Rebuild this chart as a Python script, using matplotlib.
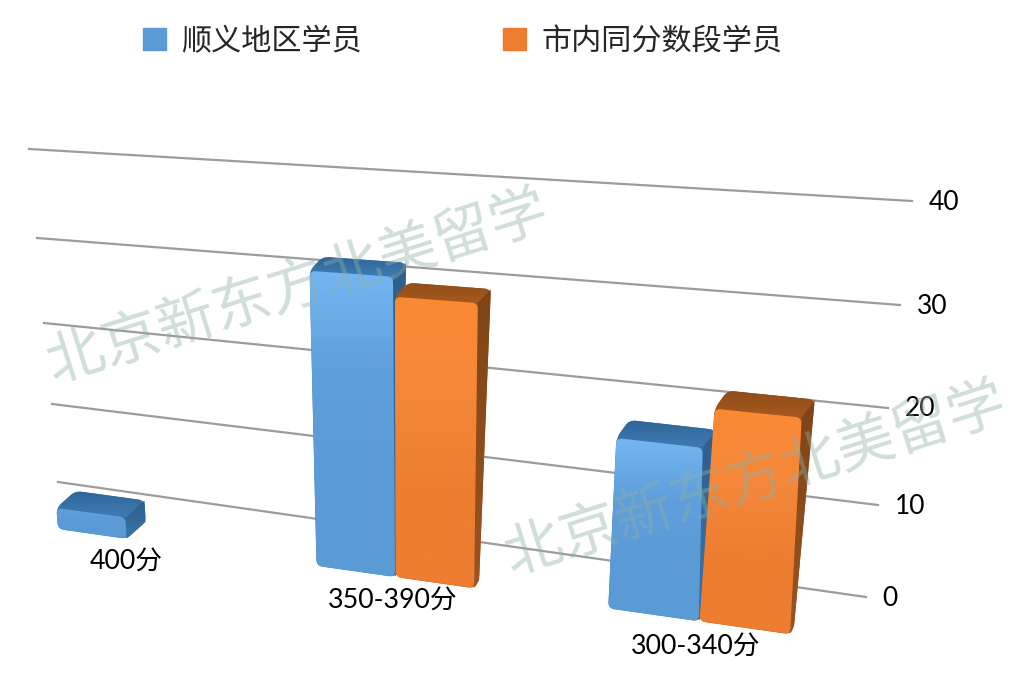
import numpy as np
import matplotlib
matplotlib.use('Agg')
from matplotlib import pyplot as plt
from matplotlib.path import Path
from matplotlib.patches import PathPatch, Rectangle
from matplotlib.colors import to_rgb

plt.rcParams['font.family'] = ['Lato', 'Noto Sans CJK SC', 'DejaVu Sans']

categories = ['400分', '350-390分', '300-340分']
blue_values = [2.7, 33.8, 19]
orange_values = [0, 31.7, 23]
tick_values = [0, 10, 20, 30, 40]
series_names = ['顺义地区学员', '市内同分数段学员']
watermark = '北京新东方北美留学'

# the chart is tilted, gridline ends in picture pixels
grid_left_x = [58, 52, 44, 37, 29]
grid_left_y = [482, 404, 323, 238, 149]
grid_right_x = [866, 878, 888, 900, 912]
grid_right_y = [597, 505, 408, 305, 201]

group_left = [0.0, 0.32, 0.681]
group_width = [0.085, 0.097, 0.112]
front_drop = [47, 47, 48]
top_left_dx = [0, -3, -2]
top_right_dx = [0, -4, -10]
back_top = [(19, -17), (13, -14), (13, -18)]
back_bottom = [(19, -17), (5, -8), (4, -8)]


def proj(u, v):
    xl = np.interp(v, tick_values, grid_left_x)
    yl = np.interp(v, tick_values, grid_left_y)
    xr = np.interp(v, tick_values, grid_right_x)
    yr = np.interp(v, tick_values, grid_right_y)
    return np.array([xl + (xr - xl) * u, yl + (yr - yl) * u])


def round_path(pts, r):
    verts, codes = [], []
    n = len(pts)
    for i in range(n):
        p = np.array(pts[i], float)
        a = np.array(pts[i - 1], float)
        b = np.array(pts[(i + 1) % n], float)
        ra = min(r, np.linalg.norm(a - p) / 2)
        rb = min(r, np.linalg.norm(b - p) / 2)
        p1 = p + (a - p) / np.linalg.norm(a - p) * ra
        p2 = p + (b - p) / np.linalg.norm(b - p) * rb
        verts += [p1, p, p2]
        codes += [Path.MOVETO if i == 0 else Path.LINETO, Path.CURVE3, Path.CURVE3]
    verts.append(verts[0])
    codes.append(Path.CLOSEPOLY)
    return Path(verts, codes)


def gradient_face(ax, pts, stops, r, z):
    # stops are colours spread evenly from top to bottom of the face
    pts = np.array(pts)
    path = round_path(pts, r)
    pos = np.linspace(0, 1, 64)
    rgb = np.array([to_rgb(c) for c in stops])
    ramp = np.stack([np.interp(pos, np.linspace(0, 1, len(stops)), rgb[:, k])
                     for k in range(3)], axis=-1)
    img = ramp[:, np.newaxis, :]
    x0, y0 = pts.min(axis=0)
    x1, y1 = pts.max(axis=0)
    im = ax.imshow(img, extent=(x0, x1, y1, y0), aspect='auto', zorder=z,
                   interpolation='bilinear')
    patch = PathPatch(path, transform=ax.transData, facecolor='none', edgecolor='none')
    ax.add_patch(patch)
    im.set_clip_path(patch)


def draw_bar(ax, i, u0, value, colours, z):
    front, top, side = colours
    width = group_width[i]
    down = np.array([0, front_drop[i]])
    bl = proj(u0, 0) + down
    br = proj(u0 + width, 0) + down
    tl = proj(u0, value) + down + np.array([top_left_dx[i], 0])
    tr = proj(u0 + width, value) + down + np.array([top_right_dx[i], 0])
    st = np.array(back_top[i])
    sb = np.array(back_bottom[i])
    # whole outline first so no white shows where the faces meet
    outline = round_path([tl, tl + st, tr + st, br + sb, br, bl], 6)
    ax.add_patch(PathPatch(outline, facecolor=side[-1], edgecolor='none', zorder=z))
    gradient_face(ax, [tr, tr + st, br + sb, br], side, 1, z + 0.05)
    gradient_face(ax, [tl, tl + st, tr + st, tr], top, 7, z + 0.1)
    if value < 5:
        front = front[1:]
    gradient_face(ax, [tl, tr, br, bl], front, 6, z + 0.2)


fig = plt.figure(figsize=(10.24, 6.98), dpi=100)
ax = fig.add_axes([0, 0, 1, 1])

for i, tick in enumerate(tick_values):
    ax.plot([grid_left_x[i], grid_right_x[i]], [grid_left_y[i], grid_right_y[i]],
            color='#9c9c9c', lw=1.6, zorder=1)
    ax.text(grid_right_x[i] + 16 + (1 if i else 0), grid_right_y[i] + 1, str(tick),
            fontsize=19, color='black', ha='left', va='center')

blue_style = (['#72b6f2', '#5f9fdb', '#5b9bd5', '#5b9bd5'],
              ['#2f6596', '#3f7cb4'], ['#2d5f8e', '#3b74a8'])
orange_style = (['#fb8a34', '#f4873a', '#ed7d31', '#ed7d31'],
                ['#8f4d1a', '#a8591f'], ['#7e4416', '#9c5420'])

z = 2
for i in range(len(categories)):
    if blue_values[i] > 0:
        draw_bar(ax, i, group_left[i], blue_values[i], blue_style, z)
    z += 1
    if orange_values[i] > 0:
        draw_bar(ax, i, group_left[i] + group_width[i] + 0.001, orange_values[i], orange_style, z)
    z += 1

label_xy = [(126, 562), (393, 601), (696, 647)]
for name, (x, y) in zip(categories, label_xy):
    ax.text(x, y, name, fontsize=19.3, color='black', ha='center', va='center', zorder=20)

ax.add_patch(Rectangle((143, 28), 23, 22, color='#5b9bd5', zorder=20))
ax.add_patch(Rectangle((503, 28), 23, 22, color='#ed7d31', zorder=20))
ax.text(181, 41, series_names[0], fontsize=21.7, color='#262626', ha='left', va='center', zorder=20)
ax.text(541, 41, series_names[1], fontsize=21.7, color='#262626', ha='left', va='center', zorder=20)

for x, y in [(297, 287), (755, 479)]:
    ax.text(x, y, watermark, fontsize=41.8, color='#8fb0a8', alpha=0.42, rotation=17.5,
            ha='center', va='center', rotation_mode='anchor', zorder=30)

ax.set_xlim(0, 1024)
ax.set_ylim(698, 0)
ax.axis('off')

fig.savefig('out.png', dpi=100)
